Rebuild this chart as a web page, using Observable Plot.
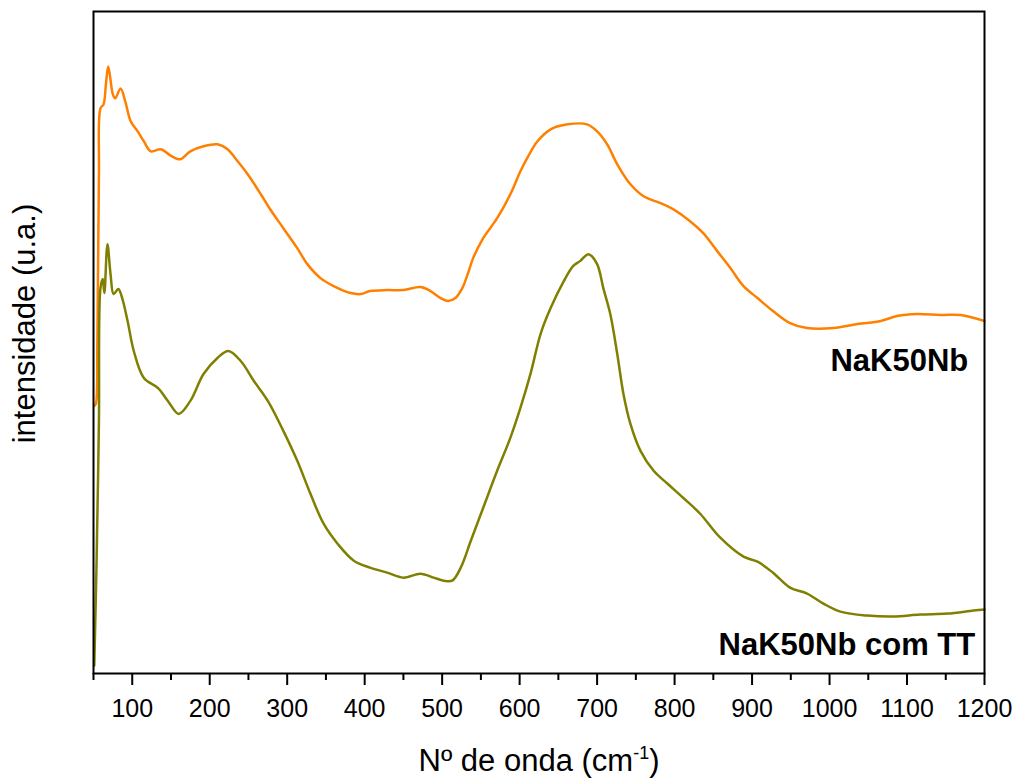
<!DOCTYPE html>
<html>
<head>
<meta charset="utf-8">
<script src="https://cdn.jsdelivr.net/npm/d3@7"></script>
<script src="https://cdn.jsdelivr.net/npm/@observablehq/plot@0.6"></script>
<style>
  html, body { margin: 0; padding: 0; background: #fff; }
  #chart { width: 1020px; height: 778px; }
</style>
</head>
<body>
<div id="chart"></div>
<script>
// NaK50Nb (orange) — wavenumber (cm-1) and intensity (a.u.)
const wnA = [51,53,55,57,59,63,66,69,75,78,85,91,98,107,115,124,137,149,162,175,192,210,223,236,249,266,278,295,313,326,343,360,382,395,407,429,450,472,485,498,508,517,526,533,540,553,571,588,601,611,623,640,662,687,700,713,726,743,760,782,798,820,837,855,872,889,907,927,949,971,1005,1036,1066,1087,1113,1143,1169,1200];
const intA = [268,270,333,500,566,570,590,608,580,576,586,573,553,543,533,523,525,519,515,523,528,530,525,513,500,480,465,446,426,410,396,388,381,380,383,384,384,387,383,376,373,376,386,400,416,436,456,480,503,518,533,545,550,550,543,530,510,490,478,471,465,453,441,423,406,388,376,363,351,346,346,350,353,358,360,359,359,353];

// NaK50Nb com TT (olive)
const wnB = [51,54,57,59,62,64,68,72,76,82,87,94,102,115,133,146,160,175,192,210,224,240,257,275,295,313,330,347,365,386,407,429,450,472,489,502,513,524,537,553,571,588,601,614,627,640,657,669,678,689,700,708,717,726,734,743,756,773,791,811,833,859,889,907,927,949,971,992,1014,1049,1082,1117,1152,1186,1200];
const intB = [8,113,253,386,395,381,430,400,380,385,376,353,323,296,286,273,260,273,300,316,323,313,293,273,243,213,180,150,130,113,106,101,96,100,96,93,93,106,133,166,203,236,266,300,340,366,393,408,413,420,410,386,360,320,280,250,223,203,190,176,160,136,117,112,101,86,80,70,62,58,57,59,60,63,64];

const majorTicks = [100,200,300,400,500,600,700,800,900,1000,1100,1200];
const minorTicks = [50,150,250,350,450,550,650,750,850,950,1050,1150];

const seriesNames = ["NaK50Nb", "NaK50Nb com TT"];
const seriesColors = ["#ff8000", "#808000"];
const labelWn = [1179, 1188];
const labelInt = [313, 28];

const xTitle = "Nº de onda (cm-1)";
const yTitle = "intensidade (u.a.)";

const dataA = wnA.map((w, i) => ({wn: w, v: intA[i]}));
const dataB = wnB.map((w, i) => ({wn: w, v: intB[i]}));
const labels = seriesNames.map((n, i) => ({name: n, wn: labelWn[i], v: labelInt[i]}));

const font = "'Liberation Sans', Arial, Helvetica, sans-serif";

const chart = Plot.plot({
  width: 1020,
  height: 778,
  marginLeft: 93,
  marginRight: 36,
  marginTop: 11,
  marginBottom: 105,
  style: {fontFamily: font, background: "#fff", color: "#000"},
  x: {domain: [50, 1200]},
  y: {domain: [0, 663], axis: null},
  marks: [
    Plot.axisX({ticks: minorTicks, tickSize: 7, tickFormat: () => "", strokeWidth: 2, label: null}),
    Plot.axisX({ticks: majorTicks, tickSize: 12, tickPadding: 14, fontSize: 25, strokeWidth: 2, label: null, tickFormat: d => String(d)}),
    Plot.lineY(dataA, {x: "wn", y: "v", stroke: seriesColors[0], strokeWidth: 2.5, curve: "catmull-rom"}),
    Plot.lineY(dataB, {x: "wn", y: "v", stroke: seriesColors[1], strokeWidth: 2.5, curve: "catmull-rom"}),
    Plot.frame({stroke: "#000", strokeWidth: 2}),
    Plot.text(labels, {x: "wn", y: "v", text: "name", textAnchor: "end", fontSize: 31, fontWeight: "bold", fill: "#000"}),
    Plot.text([xTitle], {frameAnchor: "bottom", dy: 97, fontSize: 31, fill: "#000"}),
    Plot.text([yTitle], {frameAnchor: "left", textAnchor: "middle", rotate: -90, dx: -68, dy: -19, fontSize: 31, fill: "#000"})
  ]
});

// superscript for cm-1
chart.querySelectorAll("text").forEach(t => {
  if (t.textContent === xTitle) {
    t.textContent = "";
    const ns = "http://www.w3.org/2000/svg";
    const a = document.createElementNS(ns, "tspan");
    a.textContent = "Nº de onda (cm";
    const b = document.createElementNS(ns, "tspan");
    b.textContent = "-1";
    b.setAttribute("font-size", "18");
    b.setAttribute("dy", "-12");
    const c = document.createElementNS(ns, "tspan");
    c.textContent = ")";
    c.setAttribute("dy", "12");
    t.append(a, b, c);
  }
});

document.getElementById("chart").appendChild(chart);
</script>
</body>
</html>
